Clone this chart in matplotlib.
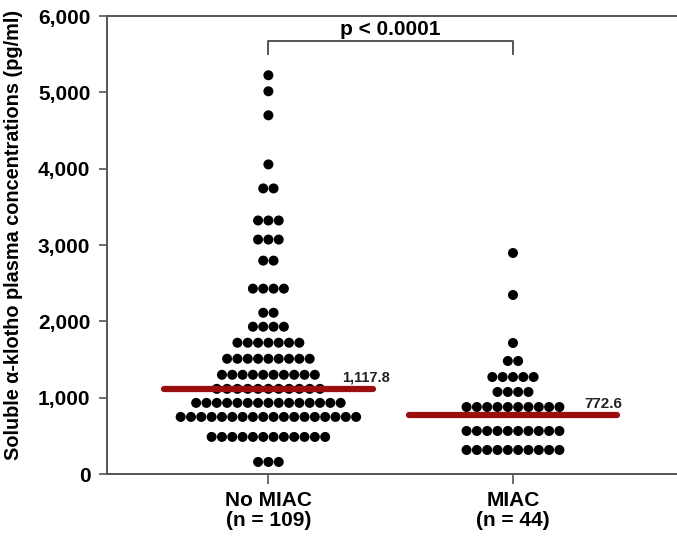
import numpy as np
import matplotlib as mpl
mpl.use('Agg')
import matplotlib.pyplot as plt

plt.rcParams['font.family'] = ['Liberation Sans', 'DejaVu Sans']

# Groups and tick labels
groups = ['No MIAC\n(n = 109)', 'MIAC\n(n = 44)']

# Dot rows: row value (pg/ml) and how many dots sit in it
nomiac_vals = [5225, 5015, 4700, 4057, 3742, 3322, 3072, 2796, 2429, 2113,
               1930, 1720, 1510, 1300, 1116, 932, 748, 486, 158]
nomiac_counts = [1, 1, 1, 1, 2, 3, 3, 2, 4, 2,
                 4, 7, 9, 10, 11, 15, 18, 12, 3]
miac_vals = [2896, 2346, 1717, 1481, 1271, 1075, 878, 564, 315]
miac_counts = [1, 1, 1, 2, 5, 4, 10, 10, 10]

means = [1117.8, 772.6]
mean_labels = ['1,117.8', '772.6']
p_text = 'p < 0.0001'

yticks = [0, 1000, 2000, 3000, 4000, 5000, 6000]
ytick_labels = ['0', '1,000', '2,000', '3,000', '4,000', '5,000', '6,000']

fig = plt.figure(figsize=(6.77, 5.37), dpi=100)
ax = fig.add_axes([0.158, 0.1173, 0.8425, 0.8527])

dx = 0.0422  # horizontal spacing of dots in a row

def swarm(xc, vals, counts):
    xs = []
    ys = []
    for v, n in zip(vals, counts):
        for i in range(n):
            xs.append(xc + (i - (n - 1) / 2.0) * dx)
            ys.append(v)
    ax.scatter(xs, ys, s=52, color='black', edgecolors='none', zorder=2)

swarm(0, nomiac_vals, nomiac_counts)
swarm(1, miac_vals, miac_counts)

# mean lines
for i, m in enumerate(means):
    ax.plot([i - 0.426, i + 0.426], [m, m], color='#9a0e0e', lw=4.5,
            solid_capstyle='round', zorder=3)

ax.text(0.30, 1175, mean_labels[0], fontsize=10.5, fontweight='bold',
        ha='left', va='bottom', color='#222222')
ax.text(1.29, 825, mean_labels[1], fontsize=11, fontweight='bold',
        ha='left', va='bottom', color='#222222')

# significance bracket
yb = 5675
ax.plot([0, 0, 1, 1], [yb - 170, yb, yb, yb - 170], color='#555555', lw=1.4)
ax.text(0.5, 5830, p_text, fontsize=15, fontweight='bold', ha='center',
        va='center')

ax.set_xlim(-0.660, 1.672)
ax.set_ylim(0, 6000)
ax.set_xticks([0, 1])
ax.set_xticklabels(groups, fontsize=15, fontweight='bold', linespacing=1.1)
ax.set_yticks(yticks)
ax.set_yticklabels(ytick_labels, fontsize=15, fontweight='bold')
ax.set_ylabel('Soluble α-klotho plasma concentrations (pg/ml)', fontsize=14.3,
              fontweight='bold', va='center')
ax.yaxis.set_label_coords(-0.163, 0.522)

for s in ['left', 'bottom', 'top']:
    ax.spines[s].set_color('#555555')
    ax.spines[s].set_linewidth(1.4)
ax.spines['right'].set_visible(False)
ax.tick_params(axis='y', direction='out', length=6, width=1.2,
               color='#555555', pad=6)
ax.tick_params(axis='x', direction='out', length=7, width=1.2,
               color='#555555', pad=5)

fig.savefig('out.png', dpi=100)
